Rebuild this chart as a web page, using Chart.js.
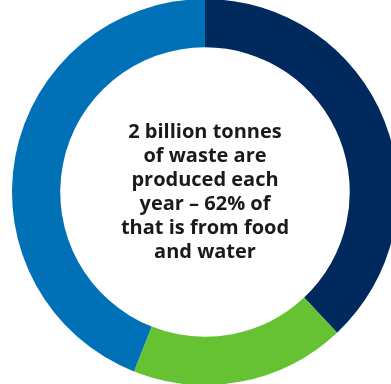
<!DOCTYPE html>
<html>
<head>
<meta charset="utf-8">
<script src="https://cdn.jsdelivr.net/npm/chart.js@4/dist/chart.umd.min.js"></script>
<style>
  html, body { margin: 0; padding: 0; width: 391px; height: 384px; overflow: hidden; background: #ffffff; }
  #wrap { position: absolute; left: 12px; top: -1px; width: 386px; height: 386px; }
  #centre {
    position: absolute; left: 95px; top: 118.5px; width: 220px;
    text-align: center;
    font-family: "Open Sans", sans-serif; font-weight: 700;
    font-size: 20px; line-height: 24px; color: #1a1a1a;
  }
</style>
</head>
<body>
<div id="wrap"><canvas id="chart"></canvas></div>
<div id="centre">2 billion tonnes<br>of waste are<br>produced each<br>year – 62% of<br>that is from food<br>and water</div>
<script>
// Shares of the ring, clockwise from twelve o'clock
const categories = ["Segment A", "Segment B", "Segment C"];
const shares = [38, 18, 44];
const colours = ["#00295e", "#66c233", "#0071b6"];

new Chart(document.getElementById("chart"), {
  type: "doughnut",
  data: {
    labels: categories,
    datasets: [{
      data: shares,
      backgroundColor: colours,
      borderWidth: 0,
      hoverOffset: 0
    }]
  },
  options: {
    responsive: true,
    maintainAspectRatio: false,
    animation: false,
    cutout: "75%",
    layout: { padding: 0 },
    plugins: {
      legend: { display: false },
      tooltip: { enabled: false }
    }
  }
});
</script>
</body>
</html>
